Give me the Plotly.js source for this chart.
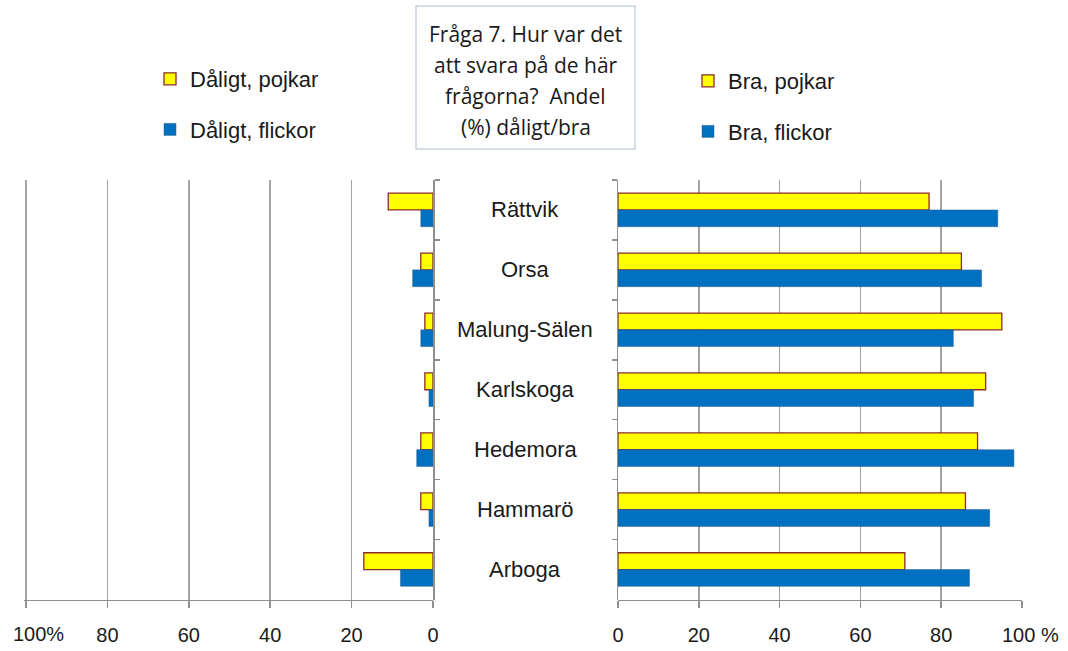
<!DOCTYPE html>
<html>
<head>
<meta charset="utf-8">
<script src="https://cdn.plot.ly/plotly-3.0.1.min.js"></script>
<style>
  html, body { margin: 0; padding: 0; background: #fff; }
  #chart { width: 1068px; height: 651px; }
</style>
</head>
<body>
<div id="chart"></div>
<script>
// Kategorier och värden (andel %)
const kommuner = ['Rättvik', 'Orsa', 'Malung-Sälen', 'Karlskoga', 'Hedemora', 'Hammarö', 'Arboga'];
const daligtPojkar = [11, 3, 2, 2, 3, 3, 17];
const daligtFlickor = [3, 5, 3, 1, 4, 1, 8];
const braPojkar = [77, 85, 95, 91, 89, 86, 71];
const braFlickor = [94, 90, 83, 88, 98, 92, 87];

const tickVals = [0, 20, 40, 60, 80, 100];
const tickTextLeft = ['0', '20', '40', '60', '80', ''];   // "100%" ritas som annotation
const tickTextRight = ['0', '20', '40', '60', '80', '\u00a0\u00a0\u00a0100\u00a0%'];

const titelRader = ['Fråga 7. Hur var det', 'att svara på de här', 'frågorna?  Andel', '(%) dåligt/bra'];

// Färger
const gul = '#FFFF00';
const gulKant = '#8B2A2A';
const bla = '#0070C0';
const blaKant = '#2F5F8F';
const gra = '#8f8f8f';
const FONT = 'Liberation Sans, Arial, sans-serif';

(function () {
    const W = 1068, H = 651;
    const px = x => x / W;
    const py = y => (H - y) / H;

    const yDomain = [py(599.5), py(180)];

    const traces = [
        { name: 'Dåligt, pojkar', x: daligtPojkar, color: gul, line: gulKant, lw: 1.3, xa: 'x', ya: 'y', legend: 'legend', grp: 'a' },
        { name: 'Dåligt, flickor', x: daligtFlickor, color: bla, line: blaKant, lw: 0.5, xa: 'x', ya: 'y', legend: 'legend', grp: 'b' },
        { name: 'Bra, pojkar', x: braPojkar, color: gul, line: gulKant, lw: 1.3, xa: 'x2', ya: 'y2', legend: 'legend2', grp: 'c' },
        { name: 'Bra, flickor', x: braFlickor, color: bla, line: blaKant, lw: 0.5, xa: 'x2', ya: 'y2', legend: 'legend2', grp: 'd' }
    ].map(t => ({
        type: 'bar',
        orientation: 'h',
        name: t.name,
        x: t.x,
        y: kommuner,
        xaxis: t.xa,
        yaxis: t.ya,
        legend: t.legend,
        legendgroup: t.grp,
        marker: { color: t.color, line: { color: t.line, width: t.lw } },
        hoverinfo: 'x+y+name'
    }));

    const xBase = {
        showline: true, linecolor: gra, linewidth: 1.5,
        ticks: 'outside', ticklen: 7, tickcolor: gra, tickwidth: 1.5,
        showgrid: true, gridcolor: '#a3a3a3', gridwidth: 1.5,
        zeroline: false, tickvals: tickVals,
        tickfont: { family: FONT, size: 20, color: '#1a1a1a' },
        ticklabelstandoff: 10,
        ticklabeloverflow: 'allow',
        anchor: 'free', position: yDomain[0],
        fixedrange: true
    };

    const yBase = {
        type: 'category',
        autorange: 'reversed',
        domain: yDomain,
        showline: true, linecolor: gra, linewidth: 1.5,
        ticks: 'outside', ticklen: 5, tickcolor: gra, tickwidth: 1.5,
        tickson: 'boundaries',
        showticklabels: false, showgrid: false, zeroline: false,
        fixedrange: true
    };

    const legendBase = {
        font: { family: FONT, size: 22, color: '#1a1a1a' },
        bgcolor: 'rgba(0,0,0,0)',
        xanchor: 'left', yanchor: 'top',
        tracegroupgap: 19,
        itemwidth: 30
    };

    const annotations = kommuner.map(k => ({
        xref: 'paper', yref: 'y',
        x: px(525), y: k,
        text: k, showarrow: false,
        xanchor: 'center', yanchor: 'middle',
        font: { family: FONT, size: 22, color: '#1a1a1a' }
    }));

    // "100%" på vänstra axeln, lite förskjuten inåt som i Excel
    annotations.push({
        xref: 'x', yref: 'paper',
        x: 100, xshift: 12, y: py(634),
        xanchor: 'center', yanchor: 'middle',
        text: '100%', showarrow: false,
        font: { family: FONT, size: 20, color: '#1a1a1a' }
    });

    // Rubrikruta: en rad i taget för att få Excel-radavståndet
    const radY = [34, 65, 96, 127];
    titelRader.forEach((rad, i) => {
        annotations.push({
            xref: 'paper', yref: 'paper',
            x: px(525.5), y: py(radY[i]),
            xanchor: 'center', yanchor: 'middle',
            text: rad, showarrow: false,
            font: { family: 'Open Sans, sans-serif', size: 21, color: '#1a1a1a' }
        });
    });

    const layout = {
        width: W, height: H,
        margin: { l: 0, r: 0, t: 0, b: 0 },
        paper_bgcolor: '#fff', plot_bgcolor: '#fff',
        barmode: 'group', bargap: 0.44, bargroupgap: 0,
        xaxis: Object.assign({}, xBase, {
            domain: [px(24.4), px(433)], range: [100.4, 0], ticktext: tickTextLeft
        }),
        xaxis2: Object.assign({}, xBase, {
            domain: [px(618), px(1022)], range: [0, 100], ticktext: tickTextRight
        }),
        yaxis: Object.assign({}, yBase, { anchor: 'x', side: 'right' }),
        yaxis2: Object.assign({}, yBase, { anchor: 'x2', side: 'left' }),
        legend: Object.assign({}, legendBase, { x: px(150), y: py(58) }),
        legend2: Object.assign({}, legendBase, { x: px(688), y: py(60) }),
        shapes: [{
            type: 'rect', xref: 'paper', yref: 'paper',
            x0: px(416), x1: px(635), y0: py(149), y1: py(6),
            line: { color: '#c9d2e2', width: 1.5 }, fillcolor: 'rgba(0,0,0,0)'
        }],
        annotations: annotations,
        showlegend: true
    };

    Plotly.newPlot('chart', traces, layout, { displayModeBar: false, staticPlot: true });
})();
</script>
</body>
</html>
